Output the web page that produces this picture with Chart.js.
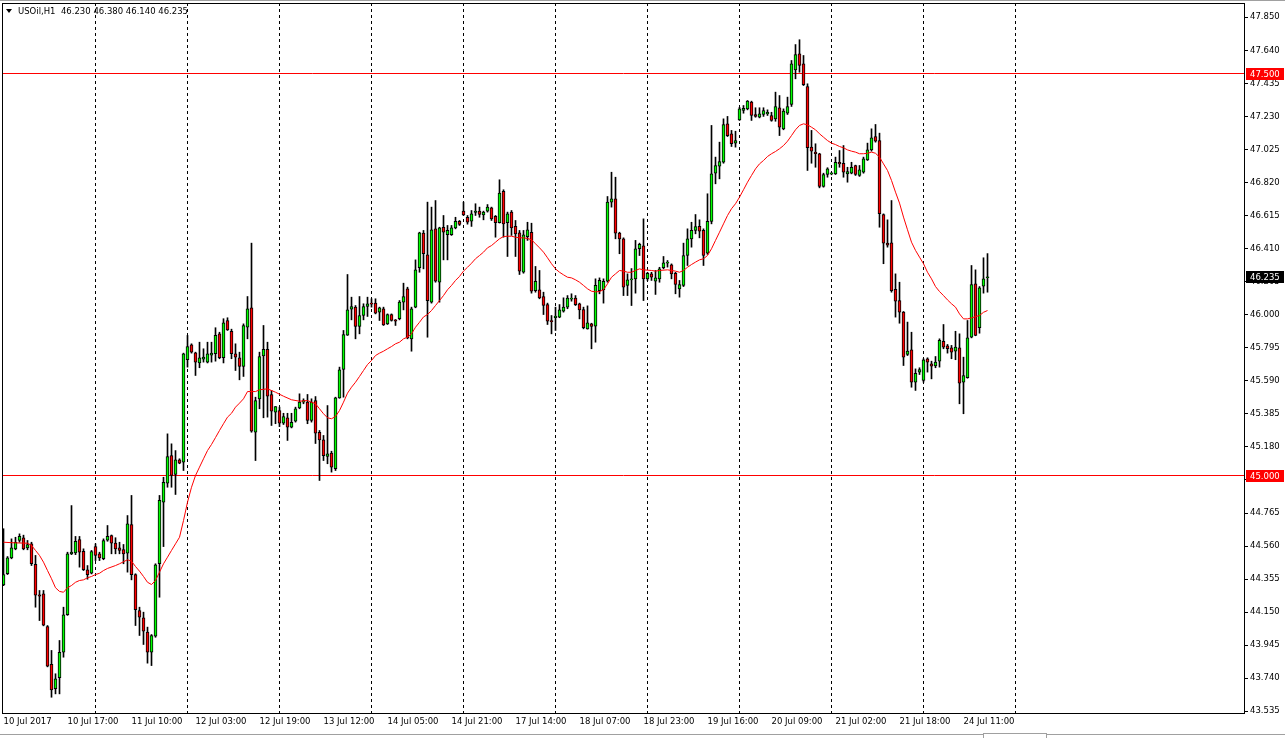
<!DOCTYPE html>
<html>
<head>
<meta charset="utf-8">
<script src="https://cdn.jsdelivr.net/npm/chart.js@4.4.0/dist/chart.umd.min.js"></script>
<style>
html, body { margin: 0; padding: 0; background: #fff; overflow: hidden; }
#wrap { position: relative; width: 1285px; height: 738px; }
</style>
</head>
<body>
<div id="wrap"><canvas id="chart" width="1285" height="738"></canvas></div>
<script>
// USOil H1 candles, 10 Jul 2017 -> 24 Jul 2017
const symbolName = "USOil,H1";

const opens = [
  44.320,44.389,44.488,44.544,44.596,44.613,44.550,44.575,44.447,44.258,
  44.264,44.061,43.825,43.674,43.742,43.901,44.134,44.513,44.519,44.602,
  44.529,44.414,44.392,44.558,44.513,44.482,44.598,44.627,44.579,44.550,
  44.540,44.517,44.695,44.384,44.160,44.115,44.026,43.901,44.001,44.451,
  44.834,44.952,45.124,45.006,45.098,45.083,45.720,45.813,45.763,45.700,
  45.724,45.705,45.749,45.757,45.881,45.732,45.964,45.896,45.757,45.732,
  45.678,45.922,46.043,45.269,45.477,45.743,45.784,45.504,45.394,45.404,
  45.325,45.359,45.300,45.338,45.421,45.456,45.456,45.342,45.466,45.269,
  45.222,45.118,45.139,45.042,45.483,45.659,45.873,46.035,46.047,45.927,
  45.995,46.051,46.068,46.072,46.015,46.037,45.943,46.001,45.968,45.975,
  46.078,46.161,45.850,46.047,46.292,46.507,46.373,46.078,46.534,46.202,
  46.544,46.497,46.497,46.540,46.580,46.644,46.606,46.581,46.636,46.644,
  46.621,46.644,46.665,46.611,46.572,46.768,46.572,46.638,46.549,46.509,
  46.264,46.486,46.513,46.150,46.155,46.113,46.063,45.964,45.981,45.985,
  46.022,46.047,46.097,46.103,46.068,46.032,45.912,45.943,45.929,46.150,
  46.155,46.208,46.700,46.721,46.507,46.472,46.182,46.217,46.223,46.410,
  46.429,46.223,46.254,46.208,46.223,46.292,46.321,46.310,46.258,46.161,
  46.182,46.368,46.472,46.524,46.549,46.524,46.383,46.580,46.880,46.924,
  46.948,47.187,47.125,47.067,47.212,47.270,47.280,47.322,47.245,47.228,
  47.245,47.249,47.239,47.218,47.287,47.156,47.253,47.307,47.523,47.622,
  47.560,47.419,47.042,47.011,47.001,46.797,46.872,46.876,46.876,46.948,
  46.942,46.876,46.880,46.928,46.866,46.886,46.963,47.025,47.108,47.083,
  46.623,46.445,46.447,46.157,46.088,46.016,45.753,45.782,45.580,45.643,
  45.591,45.726,45.695,45.682,45.711,45.834,45.807,45.794,45.773,45.794,
  45.580,45.608,45.860,46.192,45.919,46.177,46.230
];

const highs = [
  44.669,44.496,44.606,44.616,44.637,44.629,44.596,44.585,44.503,44.285,
  44.285,44.067,43.912,43.767,43.974,44.181,44.523,44.813,44.621,44.621,
  44.544,44.440,44.534,44.575,44.523,44.606,44.689,44.630,44.613,44.585,
  44.571,44.751,44.876,44.389,44.181,44.150,44.057,44.011,44.451,44.876,
  44.989,45.259,45.197,45.155,45.104,45.761,45.871,45.819,45.767,45.829,
  45.788,45.829,45.829,45.919,45.891,45.975,45.981,45.910,45.819,45.767,
  45.943,46.113,46.445,45.487,45.767,45.933,45.829,45.529,45.429,45.425,
  45.387,45.387,45.387,45.425,45.508,45.477,45.504,45.477,45.491,45.280,
  45.249,45.435,45.151,45.487,45.674,45.902,46.250,46.109,46.057,46.113,
  46.068,46.109,46.099,46.099,46.047,46.047,46.005,46.005,45.970,46.088,
  46.196,46.171,46.047,46.341,46.513,46.524,46.700,46.669,46.710,46.544,
  46.617,46.555,46.555,46.606,46.586,46.700,46.617,46.648,46.690,46.669,
  46.644,46.685,46.669,46.617,46.839,46.777,46.638,46.648,46.586,46.524,
  46.524,46.575,46.569,46.300,46.275,46.140,46.072,45.995,46.047,46.063,
  46.105,46.119,46.130,46.119,46.072,46.047,46.055,45.947,46.223,46.229,
  46.223,46.735,46.886,46.855,46.513,46.478,46.254,46.287,46.462,46.445,
  46.596,46.264,46.264,46.275,46.295,46.362,46.337,46.316,46.264,46.213,
  46.445,46.534,46.575,46.623,46.590,46.534,46.752,47.177,46.980,47.073,
  47.218,47.233,47.146,47.141,47.290,47.301,47.332,47.328,47.287,47.287,
  47.287,47.274,47.259,47.384,47.363,47.280,47.353,47.581,47.680,47.710,
  47.612,47.436,47.146,47.063,47.004,46.880,46.914,46.882,46.980,47.021,
  47.052,46.917,46.948,46.930,46.928,46.980,47.067,47.156,47.183,47.129,
  46.627,46.590,46.710,46.254,46.202,46.020,45.954,45.891,45.663,45.670,
  45.726,45.732,45.711,45.740,45.850,45.939,45.815,45.809,45.897,45.881,
  45.736,45.964,46.306,46.279,46.175,46.354,46.380
];

const lows = [
  44.315,44.384,44.482,44.538,44.585,44.538,44.538,44.440,44.181,44.098,
  44.065,43.810,43.621,43.642,43.642,43.870,44.130,44.508,44.508,44.430,
  44.409,44.355,44.388,44.471,44.471,44.476,44.591,44.513,44.513,44.513,
  44.451,44.399,44.351,44.067,44.005,43.949,43.833,43.818,43.994,44.243,
  44.558,44.927,44.927,44.882,45.073,45.031,45.674,45.761,45.622,45.670,
  45.705,45.700,45.705,45.711,45.726,45.700,45.902,45.726,45.653,45.595,
  45.616,45.850,45.269,45.093,45.415,45.359,45.363,45.311,45.322,45.304,
  45.317,45.218,45.296,45.332,45.415,45.446,45.322,45.332,45.199,44.969,
  45.093,45.073,45.021,45.031,45.480,45.487,45.871,45.968,45.850,45.881,
  45.968,45.989,46.047,46.005,45.964,45.933,45.939,45.960,45.933,45.968,
  46.030,45.850,45.773,46.043,46.264,46.285,45.860,46.072,46.202,46.078,
  46.341,46.341,46.493,46.534,46.555,46.617,46.563,46.549,46.617,46.606,
  46.590,46.638,46.586,46.482,46.570,46.482,46.362,46.493,46.362,46.250,
  46.258,46.462,46.134,46.140,46.099,46.001,45.939,45.881,45.902,45.981,
  46.016,46.037,46.084,46.057,45.974,45.912,45.910,45.788,45.829,46.130,
  46.072,46.202,46.669,46.472,46.379,46.119,46.119,46.057,46.134,46.368,
  46.088,46.213,46.213,46.126,46.202,46.285,46.296,46.223,46.130,46.109,
  46.175,46.306,46.420,46.503,46.478,46.306,46.375,46.565,46.814,46.845,
  46.942,47.108,47.046,47.042,47.208,47.253,47.274,47.208,47.228,47.224,
  47.233,47.239,47.203,47.203,47.114,47.150,47.245,47.295,47.467,47.508,
  47.425,46.897,46.942,46.917,46.789,46.793,46.855,46.870,46.872,46.917,
  46.855,46.824,46.876,46.866,46.860,46.880,46.959,47.017,47.073,46.544,
  46.317,46.420,46.140,45.985,45.947,45.684,45.746,45.549,45.529,45.628,
  45.580,45.643,45.601,45.670,45.674,45.788,45.761,45.726,45.720,45.446,
  45.384,45.605,45.856,45.869,45.885,46.134,46.140
];

const closes = [
  44.384,44.488,44.550,44.585,44.621,44.544,44.571,44.451,44.256,44.249,
  44.069,43.814,43.667,43.736,43.901,44.134,44.513,44.523,44.590,44.523,
  44.414,44.384,44.527,44.503,44.488,44.596,44.621,44.579,44.544,44.534,
  44.513,44.700,44.384,44.165,44.119,44.032,43.901,44.005,44.445,44.845,
  44.958,45.118,45.000,45.098,45.076,45.757,45.802,45.767,45.705,45.732,
  45.736,45.757,45.761,45.871,45.732,45.950,45.906,45.757,45.736,45.678,
  45.933,46.037,45.276,45.466,45.740,45.784,45.493,45.400,45.429,45.325,
  45.367,45.300,45.330,45.415,45.456,45.466,45.342,45.456,45.263,45.222,
  45.124,45.135,45.052,45.483,45.657,45.877,46.030,46.051,45.927,45.995,
  46.051,46.068,46.066,46.009,46.043,45.937,46.001,45.964,45.960,46.078,
  46.113,45.856,46.037,46.279,46.509,46.379,46.088,46.528,46.208,46.540,
  46.513,46.524,46.540,46.580,46.561,46.621,46.575,46.627,46.644,46.623,
  46.638,46.669,46.596,46.572,46.756,46.565,46.627,46.540,46.503,46.271,
  46.497,46.528,46.146,46.208,46.105,46.057,45.960,45.956,45.991,46.030,
  46.047,46.103,46.103,46.063,46.030,45.919,45.950,45.927,46.182,46.213,
  46.208,46.700,46.721,46.507,46.472,46.171,46.217,46.219,46.410,46.437,
  46.223,46.258,46.233,46.229,46.285,46.323,46.325,46.254,46.188,46.188,
  46.368,46.472,46.524,46.548,46.520,46.368,46.580,46.876,46.928,46.953,
  47.183,47.114,47.063,47.083,47.280,47.284,47.328,47.239,47.233,47.249,
  47.270,47.259,47.208,47.295,47.166,47.266,47.295,47.560,47.618,47.550,
  47.430,47.038,47.017,47.001,46.797,46.872,46.907,46.878,46.948,46.938,
  46.886,46.890,46.917,46.872,46.901,46.969,47.025,47.100,47.079,46.628,
  46.445,46.433,46.150,46.084,46.016,45.736,45.773,45.580,45.636,45.659,
  45.720,45.705,45.680,45.705,45.840,45.798,45.788,45.767,45.798,45.574,
  45.622,45.856,46.188,45.871,46.167,46.223,46.235
];

// red moving average (null where not read)
const maValues = [
  44.585,null,null,44.581,null,null,44.579,44.565,44.534,44.503,
  44.461,44.409,44.358,44.302,44.279,44.274,44.302,44.316,44.336,44.347,
  44.351,44.364,44.372,44.384,44.392,44.409,44.422,null,44.440,44.451,
  null,44.476,44.467,44.434,44.405,44.372,44.336,44.322,44.347,44.399,
  44.451,44.492,44.534,44.575,44.616,44.720,44.834,44.927,45.000,45.052,
  45.104,45.155,45.193,45.236,45.280,45.322,45.363,45.387,45.425,45.450,
  45.477,45.522,45.522,45.522,45.533,null,45.539,null,45.518,null,
  45.493,null,45.471,null,45.462,null,45.466,null,45.446,45.415,
  45.384,45.359,45.353,45.367,45.404,45.456,45.512,45.549,45.580,45.616,
  45.653,45.690,45.715,45.746,45.761,45.773,45.788,45.802,45.819,45.829,
  45.850,45.860,45.881,45.922,45.953,45.986,46.001,46.026,46.057,46.088,
  46.119,46.155,46.182,46.213,46.238,46.271,46.295,46.320,46.348,46.368,
  46.389,46.416,46.430,46.451,46.472,46.486,46.488,46.488,46.482,46.478,
  46.478,46.474,46.466,46.441,46.416,46.389,46.354,46.317,46.285,46.264,
  46.248,46.233,46.229,46.217,46.202,46.182,46.161,46.146,46.142,46.144,
  46.155,46.192,46.233,46.254,46.275,46.271,46.264,46.264,46.275,46.285,
  46.279,null,46.275,46.271,46.275,null,46.279,46.275,46.271,46.264,
  46.275,46.295,46.312,46.327,46.341,46.348,46.368,46.410,46.462,46.513,
  46.565,46.617,46.659,46.690,46.731,46.777,46.824,46.866,46.907,46.938,
  46.959,46.984,47.001,47.015,47.032,47.052,47.079,47.114,47.150,47.177,
  47.187,47.181,47.166,47.150,47.125,47.104,47.083,47.067,47.058,47.046,
  47.038,47.025,47.017,47.011,47.001,47.001,47.004,47.011,47.004,46.980,
  46.938,46.897,46.835,46.762,46.694,46.607,46.528,46.451,46.400,46.358,
  46.317,46.264,46.223,46.175,46.144,46.119,46.092,46.068,46.047,46.005,
  45.974,45.974,45.980,45.988,45.995,46.015,46.026
];

const levelValues = [47.500, 45.000];

const yTickValues = [
  47.850, 47.640, 47.435, 47.230, 47.025, 46.820, 46.615, 46.410, 46.205, 46.000, 45.795,
  45.590, 45.385, 45.180, 44.975, 44.765, 44.560, 44.355, 44.150, 43.945, 43.740, 43.535
];

// one label every 16 bars, starting at bar 0
const xTickLabels = [
  "10 Jul 2017", "10 Jul 17:00", "11 Jul 10:00", "12 Jul 03:00", "12 Jul 19:00", "13 Jul 12:00",
  "14 Jul 05:00", "14 Jul 21:00", "17 Jul 14:00", "18 Jul 07:00", "18 Jul 23:00", "19 Jul 16:00",
  "20 Jul 09:00", "21 Jul 02:00", "21 Jul 18:00", "24 Jul 11:00"
];
const barsPerLabel = 16;
const gridBars = [23, 46, 69, 92, 115, 138, 161, 184, 207, 230, 253];

// ---- view window ----
const X_MIN = -0.375, X_MAX = 310.375;        // 4 px per bar
const Y_MAX = 47.5 + 70.5 / 160.8;
const Y_MIN = Y_MAX - 711 / 160.8;

const FONT = '"DejaVu Sans", Verdana, sans-serif';
const FSIZE = 8.5;
Chart.defaults.font.family = FONT;
Chart.defaults.font.size = FSIZE;
Chart.defaults.color = '#000';

const upColor = '#00FF00';
const downColor = '#FF0000';

const bodies = opens.map((o, i) => ({ x: i, y: [o, closes[i]] }));
const wicks = highs.map((h, i) => ({ x: i, y: [lows[i], h] }));
const bodyColors = opens.map((o, i) => closes[i] >= o ? upColor : downColor);
const maPoints = maValues.map((v, i) => ({ x: i, y: v }));

const levelSets = levelValues.map(v => ({
  type: 'line',
  data: [{ x: X_MIN, y: v }, { x: X_MAX, y: v }],
  borderColor: '#FF0000',
  borderWidth: 1,
  pointRadius: 0,
  order: 3,
  xAxisID: 'x', yAxisID: 'y'
}));

const decor = {
  id: 'decor',
  afterDatasetsDraw(chart) {
    const { ctx, chartArea: a } = chart;
    ctx.save();
    ctx.strokeStyle = '#000';
    ctx.lineWidth = 1;
    ctx.strokeRect(a.left + 0.5, a.top + 0.5, a.right - a.left - 1, a.bottom - a.top - 1);
    ctx.restore();
  },
  afterDraw(chart) {
    const { ctx, chartArea: a } = chart;
    const ys = chart.scales.y;
    const last = opens.length - 1;
    ctx.save();
    // window chrome lines
    ctx.fillStyle = '#A0A0A0';
    ctx.fillRect(0, 0, 1285, 1);
    ctx.fillRect(0, 734, 1285, 1);
    ctx.fillStyle = '#fff';
    ctx.fillRect(983, 733, 64, 5);
    ctx.strokeStyle = '#A0A0A0';
    ctx.strokeRect(983.5, 733.5, 63, 6);

    // header
    ctx.fillStyle = '#000';
    ctx.beginPath();
    ctx.moveTo(6, 9); ctx.lineTo(12, 9); ctx.lineTo(9, 13); ctx.closePath();
    ctx.fill();
    ctx.font = FSIZE + 'px ' + FONT;
    ctx.textBaseline = 'middle';
    ctx.textAlign = 'left';
    const hdr = symbolName + '  ' + opens[last].toFixed(3) + ' ' + highs[last].toFixed(3) + ' ' +
      lows[last].toFixed(3) + ' ' + closes[last].toFixed(3);
    ctx.fillText(hdr, 18, 12);

    // price tags on the right axis
    const tag = (v, bg) => {
      const py = Math.round(ys.getPixelForValue(v));
      ctx.fillStyle = bg;
      ctx.fillRect(a.right + 1, py - 6, 38, 12);
      ctx.fillStyle = '#fff';
      ctx.fillText(v.toFixed(3), a.right + 5, py + 0.5);
    };
    levelValues.forEach(v => tag(v, '#FF0000'));
    tag(closes[last], '#000000');
    ctx.restore();
  }
};

new Chart(document.getElementById('chart'), {
  type: 'bar',
  data: {
    datasets: [
      {
        type: 'line',
        data: maPoints,
        borderColor: '#FF0000',
        borderWidth: 1,
        pointRadius: 0,
        spanGaps: true,
        order: 0,
        xAxisID: 'x', yAxisID: 'y'
      },
      {
        type: 'bar',
        data: bodies,
        backgroundColor: bodyColors,
        borderColor: '#000',
        borderWidth: 1,
        borderSkipped: false,
        barThickness: 3,
        minBarLength: 1,
        grouped: false,
        order: 1,
        xAxisID: 'x', yAxisID: 'y'
      },
      {
        type: 'bar',
        data: wicks,
        backgroundColor: '#000',
        borderWidth: 0,
        barThickness: 1,
        minBarLength: 1,
        grouped: false,
        order: 2,
        xAxisID: 'x', yAxisID: 'y'
      },
      ...levelSets
    ]
  },
  options: {
    responsive: false,
    animation: false,
    devicePixelRatio: 1,
    events: [],
    layout: { padding: { left: 2, top: 3, right: 0, bottom: 0 } },
    plugins: { legend: { display: false }, tooltip: { enabled: false } },
    scales: {
      x: {
        type: 'linear',
        position: 'bottom',
        offset: false,
        min: X_MIN, max: X_MAX,
        afterBuildTicks: s => { s.ticks = xTickLabels.map((t, i) => ({ value: i * barsPerLabel })); },
        afterFit: s => { s.height = 24; s.paddingLeft = 0; s.paddingRight = 0; },
        grid: { offset: false, drawOnChartArea: false, drawTicks: false },
        border: { display: false },
        ticks: {
          callback: (v, i) => xTickLabels[i],
          align: 'start',
          padding: 3,
          autoSkip: false,
          maxRotation: 0,
          color: '#000',
          font: { family: FONT, size: FSIZE }
        }
      },
      xg: {
        type: 'linear',
        position: 'bottom',
        offset: false,
        min: X_MIN, max: X_MAX,
        afterBuildTicks: s => { s.ticks = gridBars.map(v => ({ value: v })); },
        afterFit: s => { s.height = 0; s.paddingLeft = 0; s.paddingRight = 0; },
        grid: { offset: false, color: '#000', lineWidth: 1, drawTicks: false, drawOnChartArea: true },
        border: { display: false, dash: [3, 3] },
        ticks: { display: false }
      },
      y: {
        type: 'linear',
        position: 'right',
        min: Y_MIN, max: Y_MAX,
        afterBuildTicks: s => { s.ticks = yTickValues.map(v => ({ value: v })); },
        afterFit: s => { s.width = 40; s.paddingTop = 0; s.paddingBottom = 0; },
        grid: { drawOnChartArea: false, drawTicks: true, tickLength: 3, tickColor: '#000', color: '#000' },
        border: { display: false },
        ticks: {
          callback: v => Number(v).toFixed(3),
          padding: 2,
          autoSkip: false,
          color: '#000',
          font: { family: FONT, size: FSIZE }
        }
      }
    }
  },
  plugins: [decor]
});
</script>
</body>
</html>
